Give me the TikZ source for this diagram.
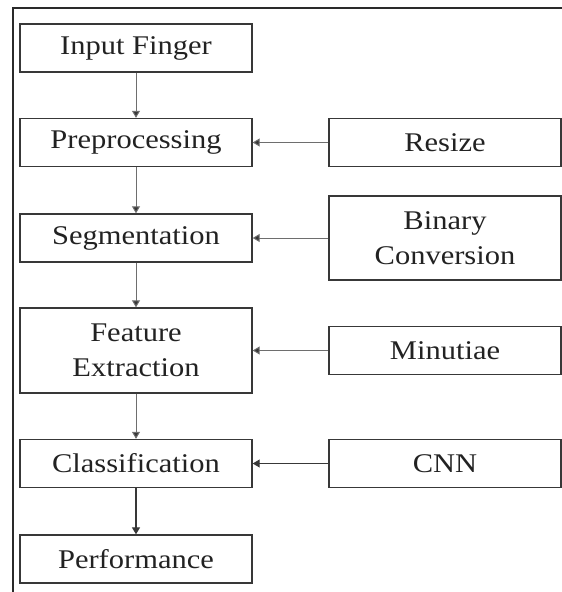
\documentclass[tikz,border=0pt]{standalone}
\usepackage{fontspec}
\setmainfont{Liberation Serif}
\usetikzlibrary{arrows.meta}
\definecolor{boxc}{HTML}{383838}
\definecolor{txtc}{HTML}{222222}
\definecolor{linec}{HTML}{6E6E6E}
\definecolor{framec}{HTML}{2A2A2A}
\newcommand{\sx}[1]{\scalebox{1.13}[1]{#1}}
\begin{document}
\begin{tikzpicture}[x=1pt,y=-1pt,
  box/.style={draw=boxc, line width=1.4pt, minimum width=232pt, minimum height=48pt,
    inner sep=0pt, align=center, text=txtc, font=\fontsize{27}{35}\selectfont},
  conn/.style={draw=linec, line width=1pt, -{Triangle[length=7pt,width=8pt,fill=boxc]}},
  frame/.style={draw=framec, line width=2pt}]
\useasboundingbox (0,0) rectangle (562,592);
\draw[frame] (13,592) -- (13,8) -- (562,8);
% left column
\node[box] (inp) at (136,48) {\sx{Input Finger}};
\node[box] (pre) at (136,142.5) {\sx{Preprocessing}};
\node[box] (seg) at (136,238) {\sx{Segmentation}};
\node[box, minimum height=85pt] (fea) at (136,350.5) {\sx{Feature}\\\sx{Extraction}};
\node[box] (cls) at (136,463.5) {\sx{Classification}};
\node[box] (per) at (136,559) {\sx{Performance}};
% right column
\node[box] (res) at (445,142.5) {\sx{Resize}};
\node[box, minimum height=84pt] (bin) at (445,238) {\sx{Binary}\\\sx{Conversion}};
\node[box] (min) at (445,350.5) {\sx{Minutiae}};
\node[box] (cnn) at (445,463.5) {\sx{CNN}};
% vertical connectors
\draw[conn] (inp) -- (pre);
\draw[conn] (pre) -- (seg);
\draw[conn] (seg) -- (fea);
\draw[conn] (fea) -- (cls);
\draw[conn, draw=boxc, line width=1.3pt] (cls) -- (per);
% horizontal connectors
\draw[conn] (res) -- (pre);
\draw[conn] (bin) -- (seg);
\draw[conn] (min) -- (fea);
\draw[conn, draw=boxc] (cnn) -- (cls);
\end{tikzpicture}
\end{document}
